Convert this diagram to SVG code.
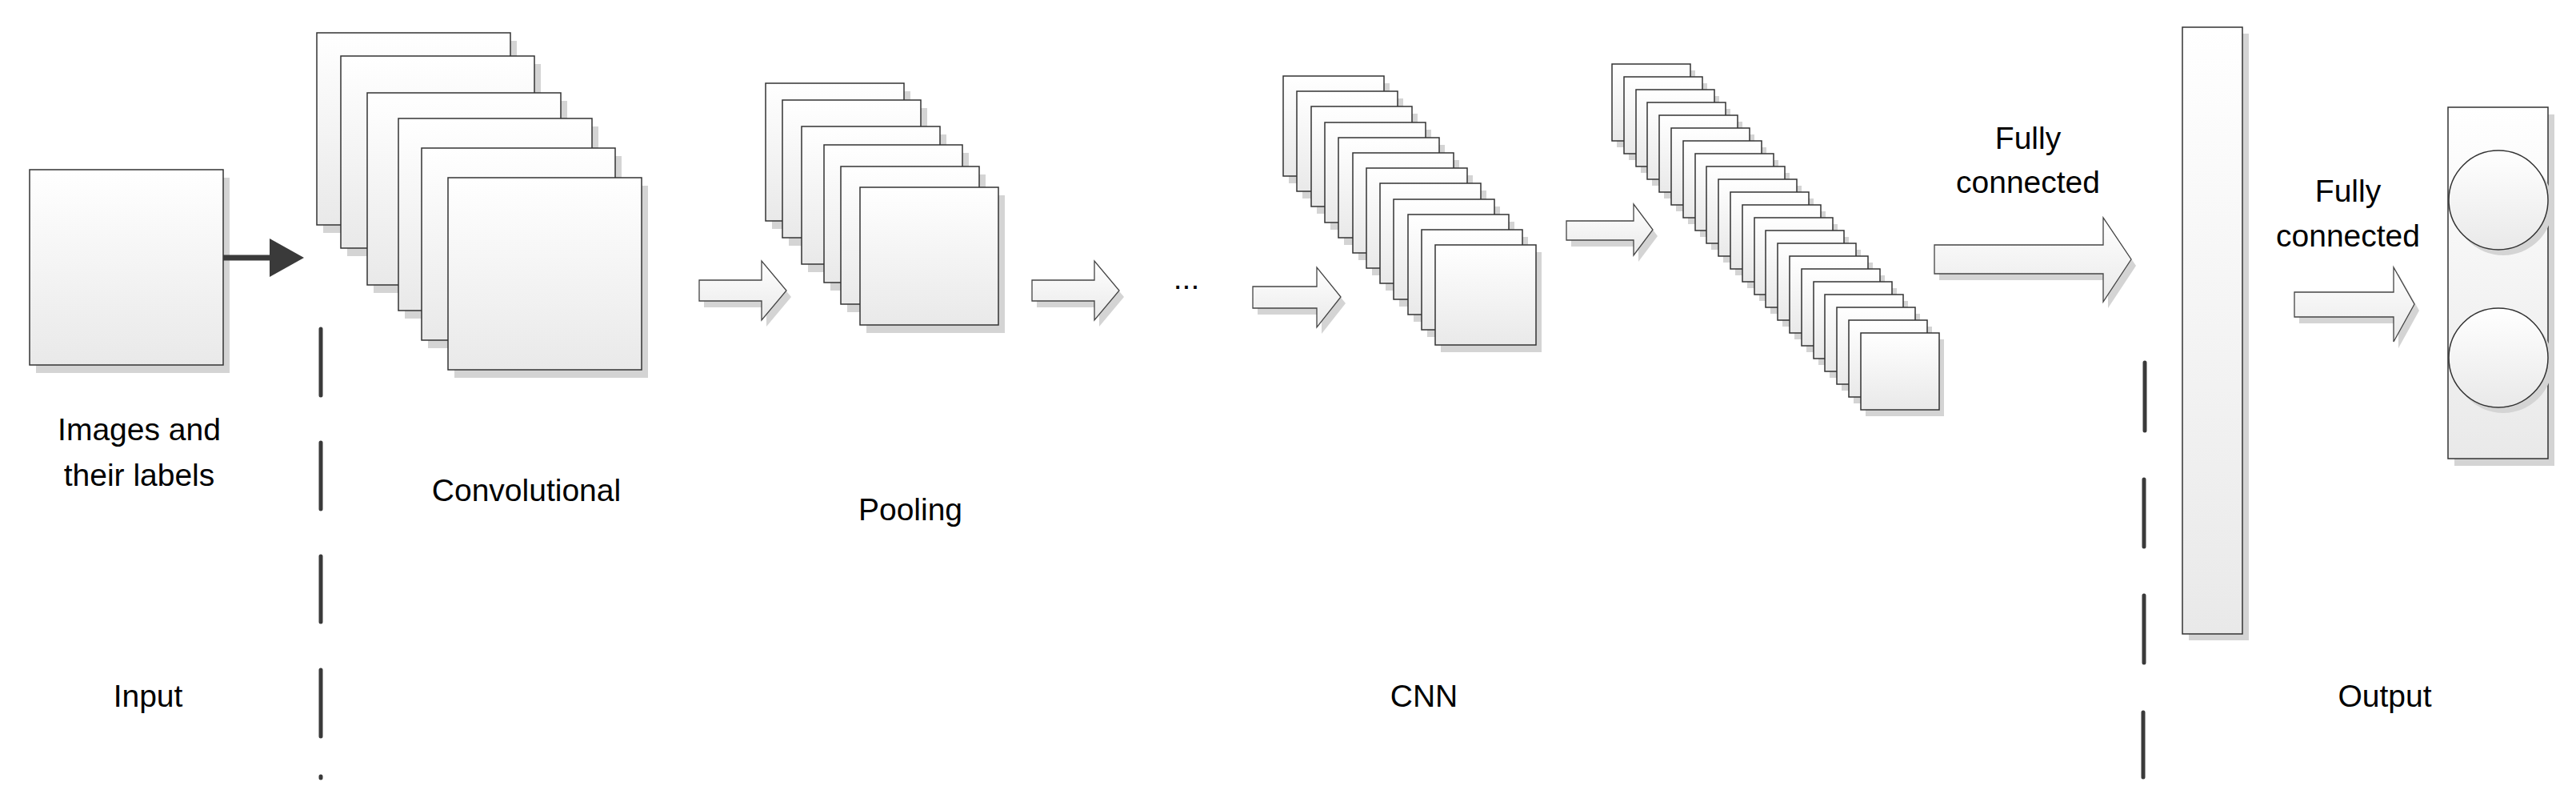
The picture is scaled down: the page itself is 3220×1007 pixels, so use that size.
<svg xmlns="http://www.w3.org/2000/svg" xmlns:xlink="http://www.w3.org/1999/xlink" width="3220" height="1007" viewBox="0 0 3220 1007">
<style>
.b{fill:url(#g);stroke:#333;stroke-width:1.5}
.sh{fill:#d4d4d4}
.ba{fill:url(#g);stroke:#444;stroke-width:1.3}
.t{font-family:"Liberation Sans",Arial,sans-serif;font-size:39px;fill:#000;text-anchor:middle}
.d{stroke:#3a3a3a;stroke-width:5;stroke-linecap:round;fill:none}
</style>
<defs>
<linearGradient id="g" x1="0" y1="0" x2="0" y2="1"><stop offset="0" stop-color="#ffffff"/><stop offset="1" stop-color="#e9e9e9"/></linearGradient>
<g id="c"><rect class="sh" x="8" y="10" width="242" height="240"/><rect class="b" width="242" height="240"/></g>
<g id="p"><rect class="sh" x="8" y="10" width="173" height="172"/><rect class="b" width="173" height="172"/></g>
<g id="s3"><rect class="sh" x="7" y="9" width="126" height="125"/><rect class="b" width="126" height="125"/></g>
<g id="s4"><rect class="sh" x="6" y="8" width="98" height="96"/><rect class="b" width="98" height="96"/></g>
</defs>
<rect width="3220" height="1007" fill="#fff"/>
<g id="input"><rect class="sh" x="45" y="222" width="242" height="244"/><rect class="b" x="37" y="212" width="242" height="244"/></g>
<g id="conv">
<use href="#c" x="396" y="41"/><use href="#c" x="426" y="70"/><use href="#c" x="459" y="116"/><use href="#c" x="498" y="148"/><use href="#c" x="527" y="185"/><use href="#c" x="560" y="222"/>
</g>
<g id="pool">
<use href="#p" x="957" y="104"/><use href="#p" x="978" y="125"/><use href="#p" x="1002" y="158"/><use href="#p" x="1030" y="181"/><use href="#p" x="1051" y="208"/><use href="#p" x="1075" y="234"/>
</g>
<g id="stack3" transform="translate(-3,0)">
<use href="#s3" x="1607" y="95"/><use href="#s3" x="1624" y="114"/><use href="#s3" x="1642" y="133"/><use href="#s3" x="1659" y="153"/><use href="#s3" x="1676" y="172"/><use href="#s3" x="1694" y="191"/><use href="#s3" x="1711" y="210"/><use href="#s3" x="1728" y="229"/><use href="#s3" x="1745" y="249"/><use href="#s3" x="1763" y="268"/><use href="#s3" x="1780" y="287"/><use href="#s3" x="1797" y="306"/>
</g>
<g id="stack4" transform="translate(-8,0)">
<use href="#s4" x="2023" y="80"/><use href="#s4" x="2038" y="96"/><use href="#s4" x="2053" y="112"/><use href="#s4" x="2067" y="128"/><use href="#s4" x="2082" y="144"/><use href="#s4" x="2097" y="160"/><use href="#s4" x="2112" y="176"/><use href="#s4" x="2127" y="192"/><use href="#s4" x="2141" y="208"/><use href="#s4" x="2156" y="224"/><use href="#s4" x="2171" y="240"/><use href="#s4" x="2186" y="256"/><use href="#s4" x="2201" y="272"/><use href="#s4" x="2215" y="288"/><use href="#s4" x="2230" y="304"/><use href="#s4" x="2245" y="320"/><use href="#s4" x="2260" y="336"/><use href="#s4" x="2275" y="352"/><use href="#s4" x="2289" y="368"/><use href="#s4" x="2304" y="384"/><use href="#s4" x="2319" y="400"/><use href="#s4" x="2334" y="416"/>
</g>
<g id="fc"><rect class="sh" x="2736" y="42" width="75" height="758"/><rect class="b" x="2728" y="34" width="75" height="758"/></g>
<g id="output">
<rect class="sh" x="3068" y="143" width="125" height="439"/><rect class="b" x="3060" y="134" width="125" height="439"/>
<ellipse class="sh" cx="3129" cy="257" rx="62" ry="62"/><ellipse class="b" cx="3123" cy="250" rx="62" ry="62"/>
<ellipse class="sh" cx="3129" cy="454" rx="62" ry="62"/><ellipse class="b" cx="3123" cy="447" rx="62" ry="62"/>
</g>
<g id="connectors">
<line x1="279" y1="322" x2="345" y2="322" stroke="#3a3a3a" stroke-width="7"/>
<polygon points="337,298 380,322 337,346" fill="#3a3a3a"/>
<path class="sh" d="M880,358 H958 V334 L989,371 L958,408 V384 H880 Z"/>
<path class="ba" d="M874,350 H952 V326 L983,363 L952,400 V376 H874 Z"/>
<path class="sh" d="M1296,358 H1374 V334 L1405,371 L1374,408 V384 H1296 Z"/>
<path class="ba" d="M1290,350 H1368 V326 L1399,363 L1368,400 V376 H1290 Z"/>
<path class="sh" d="M1572,366 H1652 V342 L1682,379 L1652,417 V393 H1572 Z"/>
<path class="ba" d="M1566,358 H1646 V334 L1676,371 L1646,409 V385 H1566 Z"/>
<path class="sh" d="M1964,284 H2048 V263 L2072,295 L2048,327 V308 H1964 Z"/>
<path class="ba" d="M1958,276 H2042 V255 L2066,287 L2042,319 V300 H1958 Z"/>
<path class="sh" d="M2424,314 H2635 V280 L2670,332 L2635,385 V350 H2424 Z"/>
<path class="ba" d="M2418,306 H2629 V272 L2664,324 L2629,377 V342 H2418 Z"/>
<path class="sh" d="M2874,373 H2998 V342 L3024,388 L2998,435 V404 H2874 Z"/>
<path class="ba" d="M2868,365 H2992 V334 L3018,380 L2992,427 V396 H2868 Z"/>
<path class="d" d="M401,411 V494 M401,553 V636 M401,695 V777 M401,837 V920 M401,970 V972"/>
<path class="d" d="M2681,453 V538 M2680,599 V683 M2680,744 V828 M2679,890 V971"/>
</g>
<g id="labels">
<text class="t" x="174" y="550">Images and</text>
<text class="t" x="174" y="607">their labels</text>
<text class="t" x="658" y="626">Convolutional</text>
<text class="t" x="1138" y="650">Pooling</text>
<text class="t" x="1483" y="361">...</text>
<text class="t" x="2535" y="186">Fully</text>
<text class="t" x="2535" y="241">connected</text>
<text class="t" x="2935" y="252">Fully</text>
<text class="t" x="2935" y="308">connected</text>
<text class="t" x="185" y="883">Input</text>
<text class="t" x="1780" y="883">CNN</text>
<text class="t" x="2981" y="883">Output</text>
</g>
</svg>
